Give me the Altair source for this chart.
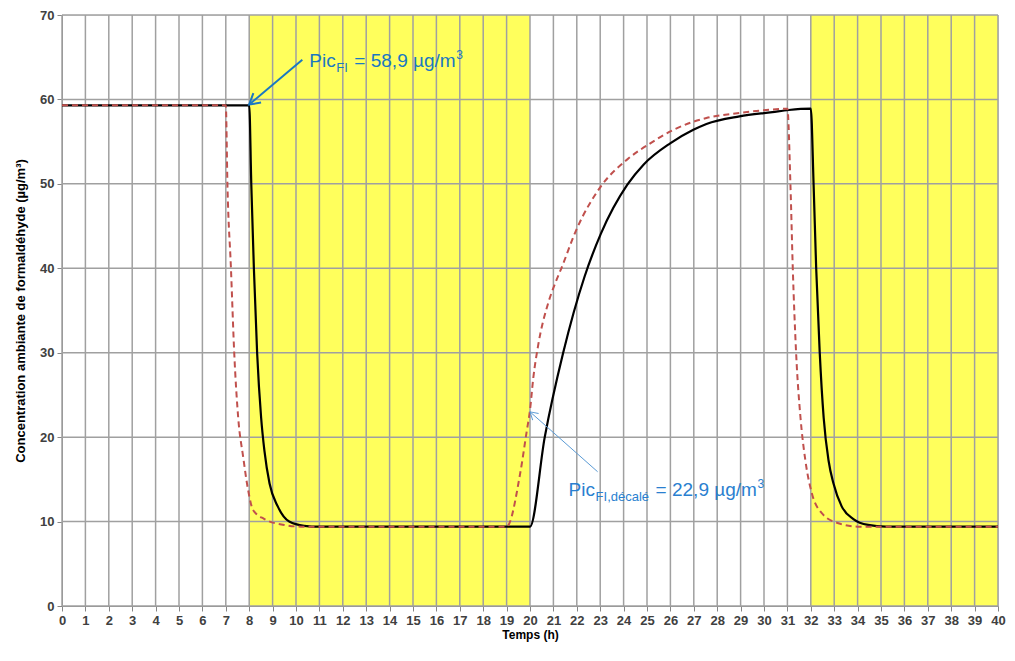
import altair as alt
import pandas as pd

# ---------------- data ----------------
black_t = [0, 8.0, 8.09, 8.2, 8.34, 8.51, 8.65, 8.87, 9.22, 9.71, 10.35, 11.0, 20.0,
           20.63, 21.41, 22.33, 23.03, 24.16, 24.86, 25.99, 26.98, 27.54, 28.95,
           30.36, 31.06, 32.0, 32.12, 32.23, 32.38, 32.55, 32.76, 32.97, 33.32,
           33.82, 34.45, 35.2, 40.0]
black_v = [59.3, 59.3, 49.9, 40.0, 29.9, 22.3, 18.4, 14.5, 11.8, 10.0, 9.5, 9.4, 9.4,
           20.0, 29.9, 39.0, 44.1, 49.9, 52.3, 54.8, 56.4, 57.1, 58.0,
           58.5, 58.75, 58.9, 49.9, 40.0, 30.1, 22.3, 17.2, 14.5, 11.8,
           10.3, 9.6, 9.4, 9.4]

red_t = [0, 7.0, 7.07, 7.22, 7.36, 7.53, 7.74, 7.95, 8.16, 8.65, 9.5, 10.2, 19.0,
         19.58, 19.86, 20.0, 20.14, 20.35, 20.78, 21.13, 21.34, 21.97, 23.03, 24.16,
         25.14, 26.13, 27.54, 28.95, 30.36, 31.0, 31.13, 31.23, 31.37, 31.56, 31.77,
         32.05, 32.47, 33.18, 34.0, 40.0]
red_v = [59.3, 59.3, 49.9, 40.0, 30.0, 22.3, 17.7, 13.8, 11.4, 10.3, 9.6, 9.4, 9.4,
         15.7, 20.7, 23.2, 27.0, 30.9, 35.9, 38.6, 40.0, 44.5, 49.7, 52.9,
         54.8, 56.4, 57.8, 58.4, 58.8, 58.9, 49.9, 40.0, 30.1, 22.3, 17.2,
         13.3, 11.0, 9.8, 9.4, 9.4]

band_start = [8, 32]
band_end = [20, 40]

x_ticks = list(range(0, 41))
y_ticks = [0, 10, 20, 30, 40, 50, 60, 70]

# annotations: arrow tail -> head, text anchor
arrow_t = [10.27, 22.89]
arrow_v = [64.7, 15.9]
arrow_t2 = [8.0, 20.0]
arrow_v2 = [59.4, 23.0]

ann_t = [10.57, 21.65]
ann_v = [63.9, 12.97]
ann_main = ["Pic", "Pic"]
ann_sub = ["FI", "FI,décalé"]
ann_rest = ["= 58,9 µg/m", "= 22,9 µg/m"]
ann_sup = ["3", "3"]

# ---------------- chart ----------------
W, H = 936, 591
xs = alt.Scale(domain=[0, 40], nice=False, zero=False)
ys = alt.Scale(domain=[0, 70], nice=False, zero=False)
FONT = "Liberation Sans"
NARROW = "Liberation Sans Narrow, Liberation Sans"

AX = alt.Axis(values=x_ticks, title="Temps (h)", grid=False,
              labelFont=NARROW, labelFontSize=13, labelFontWeight="bold",
              labelColor="#404040", labelPadding=3, labelFlush=False,
              titleFont=NARROW, titleFontSize=12, titleFontWeight="bold",
              titleColor="#000000", titlePadding=2,
              domainColor="#868686", tickColor="#868686", tickSize=5)
AY = alt.Axis(values=y_ticks, title="Concentration ambiante de formaldéhyde (µg/m³)",
              grid=False, labelFont=FONT, labelFontSize=13,
              labelFontWeight="bold", labelColor="#404040", labelPadding=3,
              titleFont=NARROW, titleFontSize=13, titleFontWeight="bold",
              titleColor="#000000", titlePadding=12,
              domainColor="#868686", tickColor="#868686", tickSize=5)


def X(f):
    return alt.X(f, scale=xs, axis=AX)


def Y(f):
    return alt.Y(f, scale=ys, axis=AY)


lines_df = pd.concat([
    pd.DataFrame({"t": black_t, "v": black_v, "s": "black"}),
    pd.DataFrame({"t": red_t, "v": red_v, "s": "red"}),
])

bands = alt.Chart(pd.DataFrame({"t": band_start, "b": band_end})).mark_rect(
    color="#FFFF5C"
).encode(
    x=X("t:Q"), x2="b:Q",
    y=alt.datum(0, scale=ys, axis=AY), y2=alt.datum(70),
)

vgrid = alt.Chart(pd.DataFrame({"t": x_ticks})).mark_rule(
    color="#A0A0A0", strokeWidth=1.5
).encode(x=X("t:Q"))

hgrid = alt.Chart(pd.DataFrame({"v": y_ticks})).mark_rule(
    color="#A0A0A0", strokeWidth=1.5
).encode(y=Y("v:Q"))

black_line = alt.Chart(lines_df).transform_filter(alt.datum.s == "black").mark_line(
    color="#000000", strokeWidth=2.2, interpolate="monotone"
).encode(x=X("t:Q"), y=Y("v:Q"))

red_line = alt.Chart(lines_df).transform_filter(alt.datum.s == "red").mark_line(
    color="#C0504D", strokeWidth=2, strokeDash=[6, 4], interpolate="monotone"
).encode(x=X("t:Q"), y=Y("v:Q"))

arr_df = pd.DataFrame({"t": arrow_t, "v": arrow_v, "t2": arrow_t2, "v2": arrow_v2,
                       "k": [0, 1]})
arrow_colors = ["#1A78C2", "#5B9BD5"]
arrow_widths = [2, 1]
arrow_angles = [230.6, 312]
arrow_sizes = [300, 160]
CHEVRON = "M-0.7,1.2L0,0L0.7,1.2"

layers = [bands, vgrid, hgrid, black_line, red_line]
for k in range(2):
    d = arr_df[arr_df.k == k]
    layers.append(alt.Chart(d).mark_rule(color=arrow_colors[k], strokeWidth=arrow_widths[k]).encode(
        x=X("t:Q"), y=Y("v:Q"), x2="t2:Q", y2="v2:Q"))
    layers.append(alt.Chart(d).mark_point(
        shape=CHEVRON, filled=False, color=arrow_colors[k], strokeWidth=arrow_widths[k],
        size=arrow_sizes[k], angle=arrow_angles[k], opacity=1
    ).encode(x=X("t2:Q"), y=Y("v2:Q")))

text_colors = ["#1A78C2", "#2A7FD0"]
sub_dx = [27, 27]
rest_dx = [45, 87]
sup_dx = [147, 189]
for k in range(2):
    base = pd.DataFrame({"t": [ann_t[k]], "v": [ann_v[k]],
                         "main": [ann_main[k]], "sub": [ann_sub[k]],
                         "rest": [ann_rest[k]], "sup": [ann_sup[k]]})
    enc = dict(x=X("t:Q"), y=Y("v:Q"))
    common = dict(align="left", baseline="alphabetic", font=FONT, color=text_colors[k])
    layers.append(alt.Chart(base).mark_text(fontSize=19, dx=0, **common).encode(text="main:N", **enc))
    layers.append(alt.Chart(base).mark_text(fontSize=13, dx=sub_dx[k], dy=5, **common).encode(text="sub:N", **enc))
    layers.append(alt.Chart(base).mark_text(fontSize=19, dx=rest_dx[k], **common).encode(text="rest:N", **enc))
    layers.append(alt.Chart(base).mark_text(fontSize=12, dx=sup_dx[k], dy=-8, **common).encode(text="sup:N", **enc))

chart = alt.layer(*layers).properties(
    width=W, height=H,
    autosize=alt.AutoSizeParams(type="none"),
    padding={"left": 54, "top": 7, "right": 9, "bottom": 40},
).configure_view(stroke=None).configure(background="white")

chart.save("out.html", embed_options={"renderer": "svg", "actions": False})
